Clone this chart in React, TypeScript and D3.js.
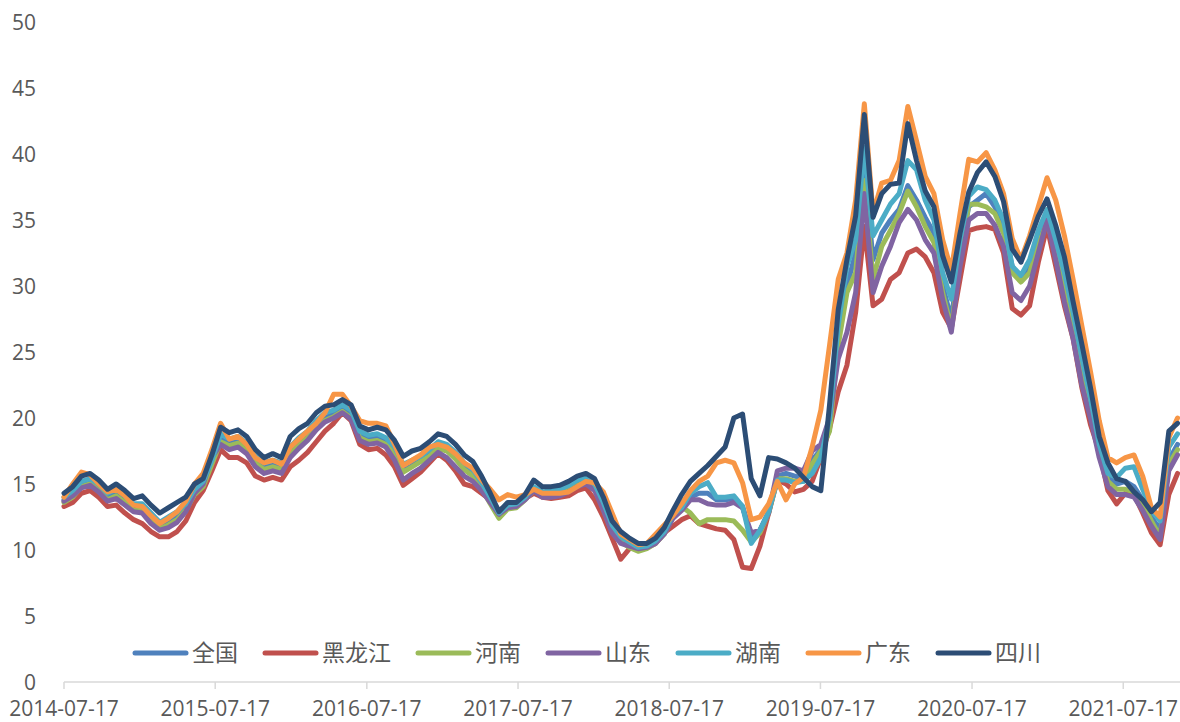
import React from 'react';
import * as d3 from 'd3';

const START = '2014-07-17';
const STEP_DAYS = 21;
const DOMAIN_END = '2021-12-01';

const SERIES_NAMES = ['全国', '黑龙江', '河南', '山东', '湖南', '广东', '四川'];
const COLORS = ['#4f81bd', '#c0504d', '#9bbb59', '#8064a2', '#4bacc6', '#f79646', '#2c4d75'];

const quanguo = [
  13.8,14.2,15.0,15.2,14.7,14.0,14.3,13.8,13.2,13.2, 12.4,11.8,12.2,12.6,13.3,14.4,15.0,16.8,18.4,18.1,
  18.3,17.8,16.8,16.3,16.5,16.3,17.5,18.1,18.7,19.4, 20.0,20.3,20.7,20.2,18.7,18.4,18.5,18.2,17.4,16.0,
  16.4,16.8,17.3,17.9,17.7,17.1,16.3,15.8,14.9,13.8, 12.6,13.3,13.3,13.9,14.6,14.2,14.2,14.3,14.6,15.0,
  15.2,14.8,13.3,11.6,10.8,10.4,10.1,10.2,10.6,11.3, 12.5,
  13.2,14.0,14.3,14.3,13.8,13.8,13.9,13.3,11.0,11.5,12.9,15.6,15.8,15.6,15.4,16.8,17.6,
  19.5,26.0,30.0,32.5,39.0,32.0,34.0,35.0,35.8,37.6, 36.5,35.2,34.0,30.0,27.5,32.5,36.0,36.5,37.0,36.0,
  34.5,31.5,30.5,31.5,33.5,35.0,33.0,30.5,27.5,24.0, 21.0,17.8,15.5,15.0,15.2,14.8,13.8,12.5,11.5,16.8,
  18.0,
];
const heilongjiang = [
  13.3,13.6,14.3,14.5,14.0,13.3,13.4,12.8,12.3,12.0, 11.4,11.0,11.0,11.4,12.2,13.6,14.5,16.0,17.6,17.0,
  17.0,16.6,15.6,15.3,15.5,15.3,16.3,16.8,17.4,18.2, 19.0,19.6,20.4,19.8,18.0,17.6,17.7,17.2,16.3,14.9,
  15.4,15.9,16.6,17.3,16.8,16.0,15.0,14.8,14.3,13.8, 13.0,13.4,13.6,13.9,14.3,14.0,13.9,14.0,14.1,14.5,
  14.7,13.8,12.5,10.9,9.3,10.1,10.2,10.2,10.5,11.3, 11.8,
  12.3,12.6,12.0,11.8,11.6,11.5,10.8,8.7,8.6,10.3,12.8,15.3,15.0,14.4,14.6,15.2,17.0,
  19.2,22.0,24.0,28.0,34.5,28.5,29.0,30.5,31.0,32.5, 32.8,32.2,31.0,28.0,26.8,30.5,34.2,34.4,34.5,34.3,
  32.5,28.3,27.8,28.5,31.8,34.5,31.5,28.5,26.0,22.3, 19.5,17.5,14.5,13.5,14.3,14.2,12.8,11.3,10.4,14.2,
  15.8,
];
const henan = [
  13.6,14.0,14.8,15.0,14.5,13.8,14.1,13.6,13.0,13.0, 12.2,11.6,11.9,12.3,13.0,14.2,14.8,16.5,18.2,17.9,
  18.1,17.6,16.6,16.1,16.3,16.1,17.3,17.9,18.5,19.2, 19.8,20.1,20.5,20.0,18.5,18.2,18.3,18.0,17.3,15.9,
  16.3,16.7,17.1,17.7,17.5,16.9,16.1,15.6,14.7,13.5, 12.4,13.1,13.2,13.8,14.5,14.1,14.1,14.2,14.5,14.9,
  15.1,14.6,13.1,11.4,10.6,10.2,9.9,10.1,10.5,11.2, 12.5,
  13.3,12.8,12.0,12.3,12.3,12.3,12.2,11.5,10.6,11.3,12.8,15.4,15.4,15.2,15.2,16.5,17.5,
  19.0,25.5,29.5,31.0,38.0,30.5,33.0,34.2,35.5,37.2, 36.0,34.5,33.3,29.5,26.8,32.0,36.2,36.2,36.0,35.5,
  34.0,31.0,30.3,31.0,33.2,34.8,32.6,30.0,27.0,23.6, 20.6,17.5,15.2,14.6,14.6,14.4,13.5,12.2,11.0,16.5,
  17.6,
];
const shandong = [
  13.7,14.1,14.7,14.9,14.4,13.7,13.9,13.4,12.9,12.8, 12.0,11.5,11.7,12.1,12.9,14.3,15.0,17.0,18.0,17.6,
  17.8,17.3,16.3,15.8,16.0,15.8,17.0,17.7,18.3,19.1, 19.7,20.0,20.4,19.9,18.3,18.0,18.1,17.8,16.8,15.3,
  15.8,16.2,16.8,17.4,17.0,16.3,15.6,15.2,14.5,13.6, 12.7,13.2,13.3,13.8,14.5,14.0,14.0,14.1,14.4,14.8,
  15.0,14.5,13.0,11.3,10.5,10.3,10.1,10.2,10.5,11.2, 12.4,
  13.0,13.8,13.8,13.5,13.4,13.4,13.6,13.2,11.3,11.5,12.8,16.0,16.2,16.2,16.0,17.5,18.0,
  20.0,24.5,26.5,29.5,37.0,29.5,31.5,33.0,34.8,35.8, 35.0,33.5,32.5,29.0,26.5,31.5,35.0,35.5,35.5,34.6,
  33.0,29.5,28.9,30.0,32.5,35.0,32.0,28.8,26.0,22.5, 20.0,17.0,14.8,14.2,14.2,14.0,13.0,11.8,10.8,16.0,
  17.2,
];
const hunan = [
  14.0,14.5,15.2,15.4,15.0,14.3,14.6,14.1,13.5,13.5, 12.8,12.1,12.5,12.9,13.5,14.6,15.2,16.8,18.8,18.4,
  18.6,18.1,17.1,16.6,16.8,16.6,17.8,18.5,19.0,19.8, 20.4,20.6,21.0,20.6,19.0,18.7,18.8,18.5,17.8,16.5,
  16.8,17.1,17.6,18.2,18.0,17.4,16.6,16.1,15.1,14.0, 12.8,13.4,13.5,14.0,14.8,14.4,14.5,14.6,14.9,15.3,
  15.5,15.0,13.6,11.9,11.0,10.6,10.2,10.3,10.7,11.4, 12.7,
  13.2,14.3,14.8,15.1,14.0,14.0,14.1,13.3,10.5,11.5,12.9,15.3,15.3,15.1,15.2,15.8,17.0,
  20.0,27.0,31.5,33.5,40.5,33.8,35.0,36.2,37.0,39.5, 38.8,36.5,35.0,31.0,29.0,33.5,36.8,37.5,37.3,36.5,
  35.0,31.5,30.8,32.0,34.2,35.8,33.5,31.0,28.0,24.6, 21.5,18.0,15.8,15.5,16.2,16.3,14.6,13.0,12.2,17.8,
  18.8,
];
const guangdong = [
  14.0,15.0,15.9,15.7,15.0,14.4,14.6,14.1,13.4,13.3, 12.6,12.0,12.4,12.9,13.7,15.0,15.8,17.6,19.6,18.4,
  18.6,18.0,17.0,16.6,16.8,16.5,17.8,18.4,19.0,19.6, 20.4,21.8,21.8,20.9,19.8,19.6,19.6,19.4,18.0,16.4,
  16.8,17.2,17.8,18.0,17.8,17.3,16.6,16.2,15.3,14.6, 13.8,14.2,14.0,14.2,14.6,14.3,14.3,14.3,14.4,14.8,
  15.2,15.1,14.4,12.8,11.2,10.8,10.4,10.5,11.2,11.9, 12.6,
  13.5,14.5,15.2,15.6,16.6,16.8,16.6,15.1,12.3,12.5,13.5,15.2,13.8,15.0,15.5,17.8,20.6,
  25.5,30.5,32.5,36.5,43.8,35.5,37.8,38.0,39.5,43.6, 41.0,38.3,37.0,33.5,31.2,35.5,39.6,39.4,40.1,38.8,
  37.0,33.6,32.0,33.8,36.0,38.2,36.5,33.8,30.5,27.0, 23.5,19.8,17.0,16.6,17.0,17.2,15.6,13.2,12.5,18.5,
  20.0,
];
const sichuan = [
  14.3,14.8,15.6,15.8,15.3,14.6,15.0,14.5,13.9,14.1, 13.4,12.8,13.2,13.6,14.0,15.0,15.4,17.2,19.3,18.9,
  19.1,18.6,17.6,17.0,17.3,17.0,18.6,19.2,19.6,20.4, 20.9,21.0,21.4,21.0,19.4,19.1,19.3,19.1,18.3,17.1,
  17.5,17.7,18.2,18.8,18.6,18.0,17.2,16.7,15.6,14.3, 12.9,13.6,13.6,14.2,15.3,14.8,14.8,14.9,15.2,15.6,
  15.8,15.4,14.0,12.2,11.4,10.9,10.5,10.5,10.9,11.7, 13.0,
  14.2,15.2,15.8,16.4,17.1,17.8,20.0,20.3,15.4,14.1,17.0,16.9,16.6,16.2,15.5,14.8,14.5,
  21.0,28.2,32.0,35.3,43.0,35.2,37.0,37.7,37.8,42.3, 39.5,37.2,36.0,32.3,30.3,34.0,37.1,38.6,39.4,38.3,
  36.4,32.8,31.8,33.5,35.3,36.6,34.6,32.2,28.8,25.6, 22.3,18.6,16.6,15.4,15.2,14.4,13.8,12.9,13.6,19.0,
  19.6,
];

const SERIES = [quanguo, heilongjiang, henan, shandong, hunan, guangdong, sichuan];

const X_TICKS = ['2014-07-17', '2015-07-17', '2016-07-17', '2017-07-17', '2018-07-17', '2019-07-17', '2020-07-17', '2021-07-17'];
const Y_TICKS = [0, 5, 10, 15, 20, 25, 30, 35, 40, 45, 50];

const W = 1180;
const H = 722;
const parse = d3.utcParse('%Y-%m-%d');

export default function App() {
  const start = parse(START) as Date;
  const x = d3.scaleUtc().domain([start, parse(DOMAIN_END) as Date]).range([64, 1180]);
  const y = d3.scaleLinear().domain([0, 50]).range([682, 22]);
  const dates = sichuan.map((_, i) => d3.utcDay.offset(start, i * STEP_DAYS));
  const line = d3
    .line<number>()
    .x((_, i) => x(dates[i]))
    .y((d) => y(d));

  const textColor = '#595959';
  const numFont = "'Open Sans', 'Liberation Sans', sans-serif";
  const cjkFont = "'Noto Sans CJK SC', sans-serif";

  let lx = 133;
  const legendItems = SERIES_NAMES.map((name, i) => {
    const item = { name, color: COLORS[i], x: lx };
    lx += 55 + 4 + name.length * 23 + 25;
    return item;
  });

  return (
    <svg width={W} height={H} style={{ position: 'absolute', left: 0, top: 0, background: '#fff' }}>
      <rect x={0} y={0} width={W} height={H} fill="#fff" />
      {Y_TICKS.map((t) => (
        <text key={t} x={36} y={y(t) + 7.5} textAnchor="end" fontFamily={numFont} fontSize={21} fill={textColor}>
          {t}
        </text>
      ))}
      <line x1={64} x2={1180} y1={682} y2={682} stroke="#d9d9d9" strokeWidth={1.5} />
      {X_TICKS.map((t) => {
        const tx = x(parse(t) as Date);
        return (
          <g key={t}>
            <line x1={tx} x2={tx} y1={682} y2={689} stroke="#d9d9d9" strokeWidth={1.5} />
            <text x={tx} y={716} textAnchor="middle" fontFamily={numFont} fontSize={21} fill={textColor}>
              {t}
            </text>
          </g>
        );
      })}
      {SERIES.map((s, i) => (
        <path
          key={SERIES_NAMES[i]}
          d={line(s) || ''}
          fill="none"
          stroke={COLORS[i]}
          strokeWidth={5}
          strokeLinejoin="round"
          strokeLinecap="round"
        />
      ))}
      {legendItems.map((it) => (
        <g key={it.name}>
          <line x1={it.x + 2} x2={it.x + 53} y1={653} y2={653} stroke={it.color} strokeWidth={5} strokeLinecap="round" />
          <text x={it.x + 59} y={661} fontFamily={cjkFont} fontSize={23} fill={textColor}>
            {it.name}
          </text>
        </g>
      ))}
    </svg>
  );
}
